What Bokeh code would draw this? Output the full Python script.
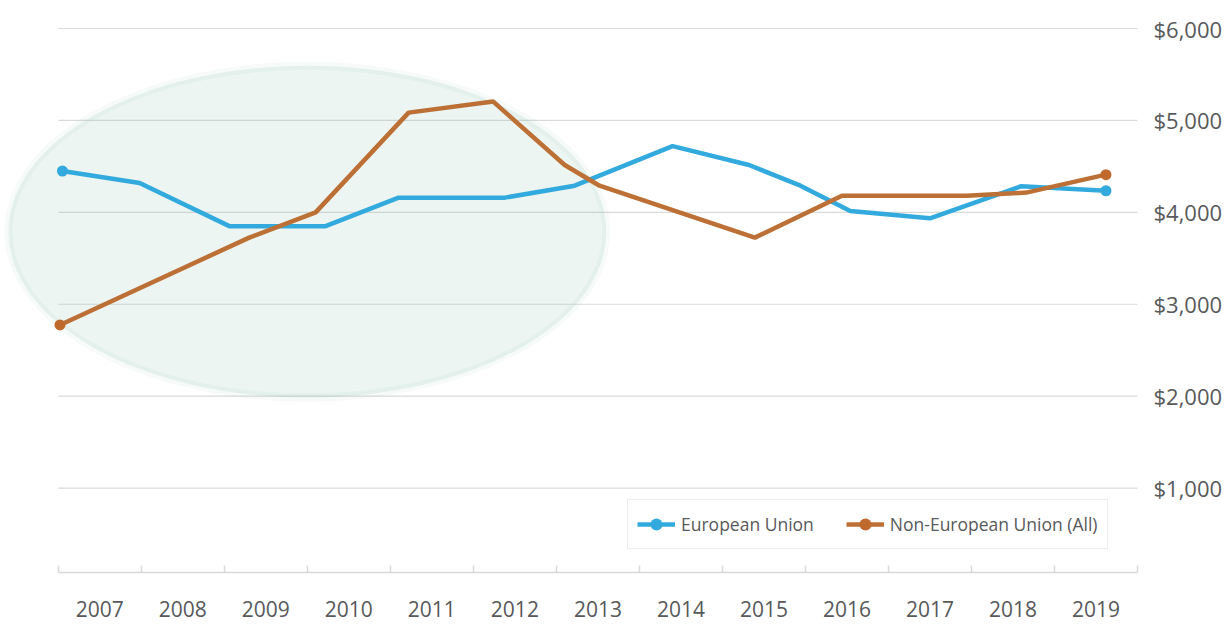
from bokeh.plotting import figure
from bokeh.models import (Range1d, FixedTicker, CustomJSTickFormatter, Legend,
                          LegendItem, NumeralTickFormatter)
from bokeh.embed import file_html
from bokeh.resources import INLINE

# ---- data (x = position in years, category band [year, year+1)) ----
years = list(range(2007, 2020))

eu_x = [2007.05, 2007.98, 2009.06, 2010.22, 2011.10, 2012.38, 2013.22,
        2014.40, 2015.32, 2015.94, 2016.54, 2017.50, 2018.60, 2019.62]
eu_y = [4450, 4320, 3850, 3850, 4160, 4160, 4290,
        4720, 4515, 4290, 4015, 3935, 4285, 4235]

neu_x = [2007.02, 2009.30, 2010.10, 2011.22, 2012.24, 2013.10, 2013.52,
         2015.39, 2016.44, 2017.94, 2018.66, 2019.62]
neu_y = [2775, 3725, 4000, 5085, 5205, 4515, 4290,
         3725, 4180, 4180, 4215, 4410]

y_ticks = [1000, 2000, 3000, 4000, 5000, 6000]

EU_COLOR = "#33aadd"
NEU_COLOR = "#bc7035"
TEXT = "#58595b"
GRID = "#d9d9d9"
FONT = "Open Sans"

X0, X1 = years[0], years[-1] + 1
LEFT_PAD = 58 / 83.308  # frame extends left of 2007 so the ellipse is not clipped

p = figure(width=1225, height=624, output_backend="svg", toolbar_location=None,
           x_range=Range1d(X0 - LEFT_PAD, X1), y_range=Range1d(82, 6011),
           y_axis_location="right",
           min_border_left=0, min_border_top=27, min_border_right=84,
           min_border_bottom=52)
p.outline_line_color = None
p.background_fill_color = "white"
p.border_fill_color = "white"

# horizontal grid lines, limited to the category span
p.xgrid.grid_line_color = None
p.ygrid.grid_line_color = None
p.segment(x0=[X0] * len(y_ticks), x1=[X1] * len(y_ticks), y0=y_ticks, y1=y_ticks,
          line_color=GRID, line_width=1.2)

# highlight ellipse
p.ellipse(x=2010.0, y=3790, width=7.2, height=3610,
          fill_color="#8ac2a6", fill_alpha=0.16,
          line_color="#8ac2a6", line_alpha=0.08, line_width=8)

# lines
eu_line = p.line(eu_x, eu_y, line_color=EU_COLOR, line_width=4.5)
neu_line = p.line(neu_x, neu_y, line_color=NEU_COLOR, line_width=4.5)
eu_pts = p.scatter([eu_x[0], eu_x[-1]], [eu_y[0], eu_y[-1]], size=11,
                   fill_color=EU_COLOR, line_color=None)
neu_pts = p.scatter([neu_x[0], neu_x[-1]], [neu_y[0], neu_y[-1]], size=11,
                    fill_color="#c0692d", line_color=None)

# x axis: labels at band centres, ticks at band boundaries
xa = p.xaxis[0]
xa.bounds = (X0, X1)
xa.ticker = FixedTicker(ticks=[y + 0.5 for y in years],
                        minor_ticks=list(range(X0, X1 + 1)))
xa.formatter = CustomJSTickFormatter(code="return String(Math.floor(tick));")
xa.major_tick_line_color = None
xa.minor_tick_line_color = GRID
xa.minor_tick_line_width = 1.5
xa.minor_tick_in = 7
xa.minor_tick_out = 0
xa.axis_line_color = GRID
xa.axis_line_width = 1.5
xa.major_label_text_font = FONT
xa.major_label_text_font_size = "21px"
xa.major_label_text_color = TEXT
xa.major_label_standoff = 22

ya = p.yaxis[0]
ya.ticker = FixedTicker(ticks=y_ticks)
ya.formatter = NumeralTickFormatter(format="$0,0")
ya.axis_line_color = None
ya.major_tick_line_color = None
ya.minor_tick_line_color = None
ya.major_label_text_font = FONT
ya.major_label_text_font_size = "22px"
ya.major_label_text_color = TEXT
ya.major_label_standoff = 10

legend = Legend(items=[
    LegendItem(label="European Union", renderers=[eu_line, eu_pts]),
    LegendItem(label="Non-European Union (All)", renderers=[neu_line, neu_pts]),
], orientation="horizontal", location=(627, 23))
legend.border_line_color = GRID
legend.border_line_width = 1.2
legend.background_fill_color = "white"
legend.label_text_font = FONT
legend.label_text_font_size = "17.5px"
legend.label_text_color = TEXT
legend.glyph_width = 38
legend.glyph_height = 30
legend.label_height = 30
legend.label_standoff = 6
legend.spacing = 32
legend.padding = 9
legend.margin = 0
p.add_layout(legend, "center")

open("out.html", "w").write(file_html(p, INLINE))
